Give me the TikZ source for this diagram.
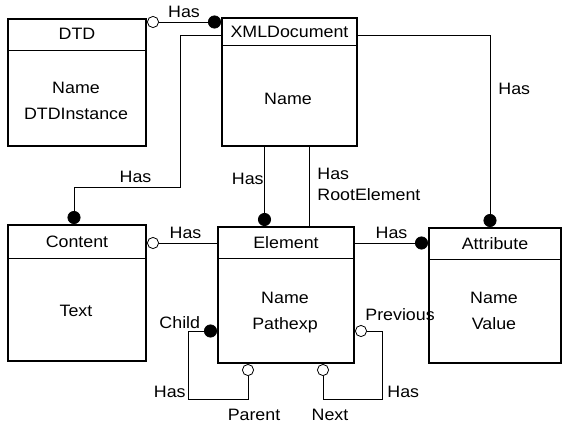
\documentclass[tikz,border=0pt]{standalone}
\usepackage{fontspec}
\setmainfont{Liberation Sans}[FakeStretch=1.08]
\usetikzlibrary{arrows.meta, positioning, calc}

\tikzset{
  entity/.style={draw, line width=2pt, inner sep=0pt, anchor=north west},
  sep/.style={line width=0.8pt},
  rel/.style={line width=0.8pt},
  todot/.style={-{Circle[length=13pt]}},
  ringdot/.style={{Circle[open, fill=white, length=12pt]}-{Circle[length=13pt]}},
  ringring/.style={{Circle[open, fill=white, length=12pt]}-{Circle[open, fill=white, length=12pt]}},
  ringline/.style={{Circle[open, fill=white, length=12pt]}-},
  every node/.append style={inner sep=4pt}
}

\begin{document}
\begin{tikzpicture}[x=1pt, y=-1pt, font=\fontsize{16.5}{26}\selectfont]
  \useasboundingbox (0,0) rectangle (563,426);
  % Entities
  \node[entity, minimum width=138pt, minimum height=127pt] (dtd) at (7,18) {};
  \draw[sep] ([yshift=-32pt]dtd.north west) -- ([yshift=-32pt]dtd.north east);
  \node (dtdT) at ([yshift=-16pt]dtd.north) {DTD};
  \node[align=center] (dtdB) at (76,101) {Name\\DTDInstance};

  \node[entity, minimum width=135pt, minimum height=128pt] (xml) at (221,17) {};
  \draw[sep] ([yshift=-28pt]xml.north west) -- ([yshift=-28pt]xml.north east);
  \node (xmlT) at ([yshift=-15pt]xml.north) {XMLDocument};
  \node (xmlB) at (288,99) {Name};

  \node[entity, minimum width=138pt, minimum height=136pt] (content) at (7,224) {};
  \draw[sep] ([yshift=-34pt]content.north west) -- ([yshift=-34pt]content.north east);
  \node (contentT) at ([yshift=-18pt]content.north) {Content};
  \node (contentB) at (76,311) {Text};

  \node[entity, minimum width=136pt, minimum height=136pt] (elem) at (217,226) {};
  \draw[sep] ([yshift=-32pt]elem.north west) -- ([yshift=-32pt]elem.north east);
  \node (elemT) at ([yshift=-17pt]elem.north) {Element};
  \node[align=center] (elemB) at (285,313) {Name\\Pathexp};

  \node[entity, minimum width=132pt, minimum height=135pt] (attr) at (428,227) {};
  \draw[sep] ([yshift=-32pt]attr.north west) -- ([yshift=-32pt]attr.north east);
  \node (attrT) at ([yshift=-17pt]attr.north) {Attribute};
  \node[align=center] (attrB) at (494,311) {Name\\Value};

  % DTD -- XMLDocument
  \coordinate (dtdR) at ([yshift=-4pt]dtd.north east);
  \draw[rel, ringdot] (dtdR) -- (dtdR -| xml.west) node[midway, above] (hasDX) {Has};

  % XMLDocument -- Attribute
  \coordinate (xmlR) at ([yshift=-18pt]xml.north east);
  \coordinate (attrN) at ([xshift=-5pt]attr.north);
  \draw[rel, todot] (xmlR) -| (attrN) node[pos=0.64, right, xshift=4pt] (hasXA) {Has};

  % XMLDocument -- Content
  \coordinate (xmlL) at ([yshift=-18pt]xml.north west);
  \coordinate (bendC) at (180,187);
  \coordinate (contentN) at ([xshift=-3pt]content.north);
  \draw[rel, todot] (xmlL) -| (bendC) -| (contentN) node[pos=0.21, above] (hasXC) {Has};

  % XMLDocument -- Element
  \coordinate (xmlS) at ([xshift=-25pt]xml.south);
  \draw[rel, todot] (xmlS) -- (xmlS |- elem.north) node[pos=0.4, left, inner sep=0.5pt] (hasXE) {Has};
  \coordinate (xmlS2) at ([xshift=19.5pt]xml.south);
  \draw[rel] (xmlS2) -- (xmlS2 |- elem.north)
    node[pos=0.47, right, xshift=4pt, align=left, font=\fontsize{16.5}{21}\selectfont] (hasRoot) {Has\\RootElement};

  % Content -- Element
  \coordinate (contentR) at ([yshift=-19pt]content.north east);
  \draw[rel, ringline] (contentR) -- (contentR -| elem.west) node[pos=0.55, above] (hasCE) {Has};

  % Element -- Attribute
  \coordinate (elemR) at ([yshift=-17pt]elem.north east);
  \draw[rel, todot] (elemR) -- (elemR -| attr.west) node[midway, above] (hasEA) {Has};

  % Element self loops
  \coordinate (elemSL) at ([xshift=-38pt]elem.south);
  \coordinate (elemWC) at ([yshift=-36pt]elem.west);
  \coordinate (loopL) at (188,399);
  \draw[rel, ringdot] (elemSL) |- node[pos=0.5, below, yshift=-6pt, xshift=6pt] (parentL) {Parent}
    (loopL) |- node[pos=0.05, left, inner sep=2pt] (hasCP) {Has}
    node[pos=0.75, anchor=south east, inner sep=2pt] (childL) {Child} (elemWC);

  \coordinate (elemSR) at ([xshift=37pt]elem.south);
  \coordinate (elemEC) at ([yshift=-36pt]elem.east);
  \coordinate (loopR) at (382,399);
  \draw[rel, ringring] (elemSR) |- node[pos=0.5, below, yshift=-6pt, xshift=7pt] (nextL) {Next}
    (loopR) |- node[pos=0.05, right, inner sep=5pt] (hasNP) {Has}
    node[pos=1, anchor=south west, inner sep=2pt, xshift=8pt, yshift=8pt] (prevL) {Previous} (elemEC);
\end{tikzpicture}
\end{document}
